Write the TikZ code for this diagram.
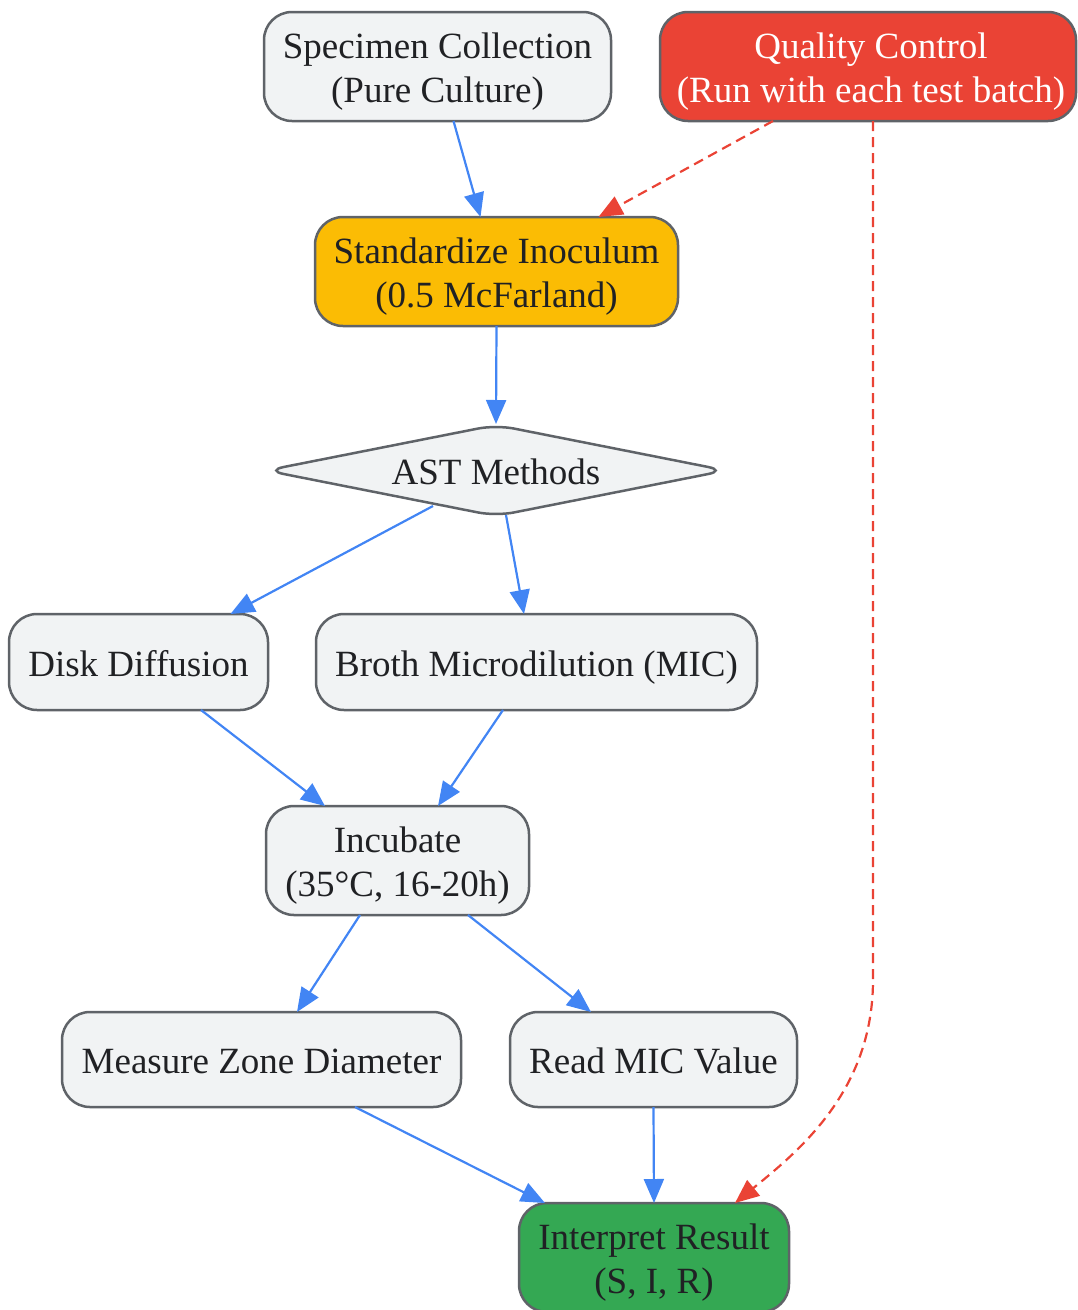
\documentclass[tikz,border=0pt]{standalone}
\usepackage{fontspec}
\setmainfont{Liberation Serif}
\usetikzlibrary{arrows.meta}
\definecolor{bordergray}{HTML}{5F6368}
\definecolor{boxgray}{HTML}{F1F3F4}
\definecolor{txtgray}{HTML}{202124}
\definecolor{gblue}{HTML}{4285F4}
\definecolor{gred}{HTML}{EA4335}
\definecolor{gyellow}{HTML}{FBBC04}
\definecolor{ggreen}{HTML}{34A853}
\tikzset{
  box/.style={draw=bordergray, line width=2.5pt, fill=boxgray, rectangle, rounded corners=28pt,
    inner sep=0pt, outer sep=0pt},
  txt/.style={inner sep=0pt, outer sep=0pt, align=center, text=txtgray, font=\fontsize{37}{44}\selectfont},
  two/.style={yshift=-5pt},
  one/.style={anchor=base, yshift=-14pt},
  flow/.style={draw=gblue, line width=2.2pt, -{Triangle[length=24pt,width=20pt]}},
  qcflow/.style={draw=gred, line width=2.2pt, dash pattern=on 10pt off 6pt, -{Triangle[length=24pt,width=20pt]}},
}
\begin{document}
\begin{tikzpicture}[x=1pt,y=-1pt]
\useasboundingbox (0,0) rectangle (1078,1310);
\node[box, minimum width=347pt, minimum height=109pt] (spec) at (437.5,66.5) {};
\node[txt, two] (spect) at (spec.center) {Specimen Collection\\(Pure Culture)};
\node[box, fill=gred, minimum width=416pt, minimum height=109pt] (qc) at (868,66.5) {};
\node[txt, two, text=white] (qct) at ([xshift=3pt]qc.center) {Quality Control\\(Run with each test batch)};
\node[box, fill=gyellow, minimum width=363pt, minimum height=109pt] (std) at (496.5,271.5) {};
\node[txt, two] (stdt) at (std.center) {Standardize Inoculum\\(0.5 McFarland)};
\draw[draw=bordergray, line width=2.5pt, fill=boxgray, rounded corners=18pt]
  (496,425) -- (726,470.5) -- (496,516) -- (266,470.5) -- cycle;
\node[txt, one] (ast) at (496,470.5) {AST Methods};
\coordinate (astT) at (496,424);
\coordinate (astL) at (433,506);
\coordinate (astB) at (506,515);
\node[box, minimum width=259pt, minimum height=96pt] (disk) at (138.5,662) {};
\node[txt, one] (diskt) at (disk.center) {Disk Diffusion};
\node[box, minimum width=441pt, minimum height=96pt] (broth) at (536.5,662) {};
\node[txt, one] (brotht) at (broth.center) {Broth Microdilution (MIC)};
\node[box, minimum width=263pt, minimum height=109pt] (inc) at (397.5,860.5) {};
\node[txt, two] (inct) at (inc.center) {Incubate\\(35°C, 16-20h)};
\node[box, minimum width=399pt, minimum height=95pt] (meas) at (261.5,1059.5) {};
\node[txt, one] (meast) at (meas.center) {Measure Zone Diameter};
\node[box, minimum width=287pt, minimum height=95pt] (read) at (653.5,1059.5) {};
\node[txt, one] (readt) at (read.center) {Read MIC Value};
\node[box, fill=ggreen, minimum width=270pt, minimum height=109pt] (int) at (654,1257.5) {};
\node[txt, two] (intt) at (int.center) {Interpret Result\\(S, I, R)};

\coordinate (qcbend) at (873,980);

\draw[flow] ([xshift=16pt]spec.south) -- ([xshift=-16pt]std.north);
\draw[qcflow] ([xshift=-95pt]qc.south) -- ([xshift=102pt]std.north);
\draw[qcflow] ([xshift=5pt]qc.south) -- (qcbend) .. controls (873,1090) and (800,1150) .. ([xshift=81pt]int.north);
\draw[flow] (std.south) -- (astT);
\draw[flow] (astL) -- ([xshift=92pt]disk.north);
\draw[flow] (astB) -- ([xshift=-12.5pt]broth.north);
\draw[flow] ([xshift=62.5pt]disk.south) -- ([xshift=-72.5pt]inc.north);
\draw[flow] ([xshift=-33.5pt]broth.south) -- ([xshift=40.5pt]inc.north);
\draw[flow] ([xshift=-37.5pt]inc.south) -- ([xshift=35.5pt]meas.north);
\draw[flow] ([xshift=70.5pt]inc.south) -- ([xshift=-62.5pt]read.north);
\draw[flow] ([xshift=93.5pt]meas.south) -- ([xshift=-109pt]int.north);
\draw[flow] (read.south) -- (int.north);
\end{tikzpicture}
\end{document}
